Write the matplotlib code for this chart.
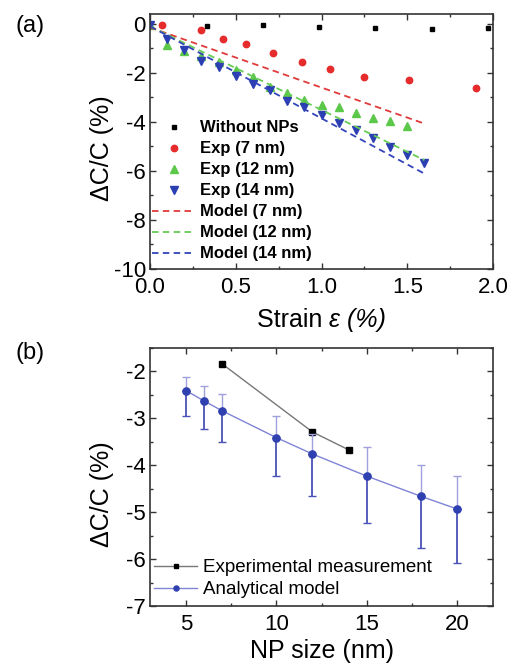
import matplotlib
matplotlib.use("Agg")
import matplotlib.pyplot as plt
import numpy as np
from matplotlib.ticker import MultipleLocator, FormatStrFormatter

plt.rcParams['font.family'] = ['Liberation Sans', 'DejaVu Sans']
plt.rcParams['axes.unicode_minus'] = False

# ---------------- panel (a) data ----------------
wo_x = [0.33, 0.656, 0.985, 1.313, 1.643, 1.97]
wo_y = [-0.08, -0.05, -0.11, -0.18, -0.22, -0.19]

exp7_x = [0.068, 0.297, 0.427, 0.56, 0.72, 0.885, 1.05, 1.25, 1.51, 1.90]
exp7_y = [-0.05, -0.26, -0.60, -0.84, -1.21, -1.56, -1.86, -2.15, -2.30, -2.61]

exp12_x = [0.0, 0.1, 0.2, 0.3, 0.4, 0.5, 0.6, 0.7, 0.8, 0.9, 1.0, 1.1, 1.2, 1.3, 1.4, 1.5]
exp12_y = [-0.03, -0.86, -1.10, -1.31, -1.54, -1.89, -2.15, -2.56, -2.82, -3.10,
           -3.31, -3.39, -3.65, -3.86, -3.97, -4.15]

exp14_x = [0.0, 0.1, 0.2, 0.3, 0.4, 0.5, 0.6, 0.7, 0.8, 0.9, 1.0, 1.1, 1.2, 1.3, 1.4, 1.5, 1.6]
exp14_y = [-0.03, -0.60, -1.06, -1.52, -1.76, -2.12, -2.45, -2.69, -3.14, -3.41,
           -3.70, -4.03, -4.34, -4.65, -5.01, -5.37, -5.66]

model_x = [0.0, 1.6]
model7_y = [-0.15, -4.07]
model12_y = [-0.10, -5.56]
model14_y = [-0.10, -6.11]

# ---------------- panel (b) data ----------------
expb_x = [7, 12, 14]
expb_y = [-1.84, -3.29, -3.67]

ana_x = [5, 6, 7, 10, 12, 15, 18, 20]
ana_y = [-2.41, -2.63, -2.84, -3.41, -3.76, -4.23, -4.66, -4.93]
ana_hi = [-2.12, -2.30, -2.48, -2.95, -3.33, -3.62, -4.00, -4.23]
ana_lo = [-2.94, -3.23, -3.50, -4.23, -4.65, -5.24, -5.76, -6.08]

W, H = 518, 664
fig = plt.figure(figsize=(W / 100, H / 100), dpi=100)

def frac(l, t, r, b):
    return [l / W, 1 - b / H, (r - l) / W, (b - t) / H]

ax1 = fig.add_axes(frac(150, 14, 493, 269))
ax2 = fig.add_axes(frac(150, 348, 493, 606))

red = '#e52b2b'
green = '#5cc84a'
blue = '#2b3fb2'

ax1.plot(wo_x, wo_y, 's', color='black', ms=3.4, label='Without NPs', ls='none')
ax1.plot(exp7_x, exp7_y, 'o', color=red, ms=4.6, label='Exp (7 nm)', ls='none')
ax1.plot(exp12_x, exp12_y, '^', color=green, ms=5.2, label='Exp (12 nm)', ls='none')
ax1.plot(exp14_x, exp14_y, 'v', color=blue, ms=5.2, label='Exp (14 nm)', ls='none')
ax1.plot(model_x, model7_y, '--', color='#e03a3a', lw=1.3, dashes=(3.6, 2.4), label='Model (7 nm)')
ax1.plot(model_x, model12_y, '--', color='#66cc55', lw=1.3, dashes=(3.6, 2.4), label='Model (12 nm)')
ax1.plot(model_x, model14_y, '--', color='#3344bb', lw=1.3, dashes=(3.6, 2.4), label='Model (14 nm)')

ax1.set_xlim(0, 2.0)
ax1.set_ylim(-10, 0.4)
ax1.xaxis.set_major_locator(MultipleLocator(0.5))
ax1.xaxis.set_minor_locator(MultipleLocator(0.25))
ax1.yaxis.set_major_locator(MultipleLocator(2))
ax1.yaxis.set_minor_locator(MultipleLocator(1))
ax1.xaxis.set_major_formatter(FormatStrFormatter('%.1f'))
ax1.set_ylabel('ΔC/C (%)', fontsize=18)
ax1.yaxis.set_label_coords((114 - 150) / 343, (269 - 148.5) / 255)

ax1.legend(loc='lower left', bbox_to_anchor=(0.006, 0.03), borderaxespad=0,
           borderpad=0, frameon=False, prop={'weight': 'bold', 'size': 12},
           handlelength=2.6, handletextpad=0.3, labelspacing=0.36)

# x label of panel (a): upright "Strain " + italic "ε (%)", centred as one
renderer = fig.canvas.get_renderer()
t1 = fig.text(0, 0, 'Strain ', fontsize=18, ha='left', va='center')
t2 = fig.text(0, 0, 'ε (%)', fontsize=18, style='italic', ha='left', va='center')
w1 = t1.get_window_extent(renderer).width
w2 = t2.get_window_extent(renderer).width
cx = (150 + 493) / 2
x0 = cx - (w1 + w2) / 2
yc = 1 - 320 / H
t1.set_position((x0 / W, yc))
t2.set_position(((x0 + w1) / W, yc))

# panel b
ax2.plot(expb_x, expb_y, '-s', color='#777777', mfc='black', mec='black', ms=4, lw=1,
         label='Experimental measurement')
ana_y_arr = np.array(ana_y)
up = np.array(ana_hi) - ana_y_arr
dn = ana_y_arr - np.array(ana_lo)
ax2.errorbar(ana_x, ana_y, yerr=[np.zeros_like(up), up], fmt='none', ecolor='#a0a0dc',
             elinewidth=1.0, capsize=3, capthick=1.0)
ax2.errorbar(ana_x, ana_y, yerr=[dn, np.zeros_like(dn)], fmt='none', ecolor='#4a52b8',
             elinewidth=1.3, capsize=3, capthick=1.0)
ax2.plot(ana_x, ana_y, '-o', color='#7f84d6', mfc='#2f40b0', mec='#2f40b0', ms=5.2, lw=1,
         label='Analytical model')

ax2.set_xlim(3, 22)
ax2.set_ylim(-7, -1.5)
ax2.xaxis.set_major_locator(MultipleLocator(5))
ax2.xaxis.set_minor_locator(MultipleLocator(2.5))
ax2.yaxis.set_major_locator(MultipleLocator(1))
ax2.yaxis.set_minor_locator(MultipleLocator(0.5))
ax2.set_xlabel('NP size (nm)', fontsize=18)
ax2.set_ylabel('ΔC/C (%)', fontsize=18)
ax2.xaxis.set_label_coords(0.5, (606 - 639) / 258)
ax2.yaxis.set_label_coords((114 - 150) / 343, (606 - 494) / 258)

ax2.legend(loc='lower left', bbox_to_anchor=(0.012, 0.03), borderaxespad=0,
           borderpad=0, frameon=False, fontsize=13.5, handlelength=2.3,
           handletextpad=0.3, labelspacing=0.25, markerscale=0.7)

for ax in (ax1, ax2):
    ax.tick_params(which='both', direction='in', top=True, right=True, labelsize=16,
                   color='#333333')
    ax.tick_params(which='major', length=4, width=1)
    ax.tick_params(which='minor', length=2.5, width=1)
    ax.tick_params(axis='x', which='major', pad=6)
    ax.tick_params(axis='y', which='major', pad=3)
    for s in ax.spines.values():
        s.set_linewidth(1.2)
        s.set_color('#333333')

fig.text(30 / W, 1 - 26 / H, '(a)', fontsize=17, ha='center', va='center')
fig.text(30 / W, 1 - 353 / H, '(b)', fontsize=17, ha='center', va='center')

fig.savefig('out.png', dpi=100)
